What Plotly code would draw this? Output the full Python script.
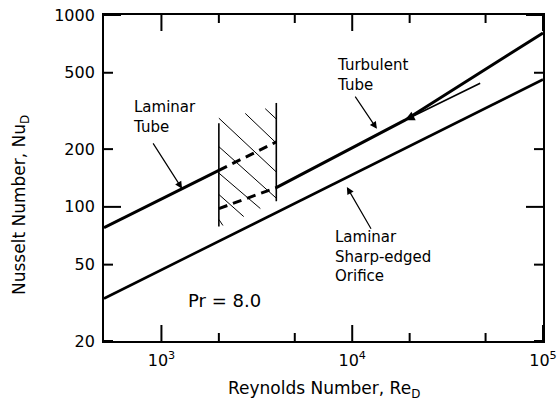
import math
import plotly.graph_objects as go

# ---------------- data ----------------
lam_tube_re = [500, 2000]
lam_tube_nu = [78, 155]

trans_upper_re = [2000, 4000]
trans_upper_nu = [155, 218]
trans_lower_re = [2000, 4000]
trans_lower_nu = [98, 126]

turb_tube_re = [4000, 18900, 100000]
turb_tube_nu = [126, 283, 806]

orifice_re = [500, 100000]
orifice_nu = [33.3, 461]

hatch_left_re = [2000, 2000]
hatch_left_nu = [79, 273]
hatch_right_re = [4000, 4000]
hatch_right_nu = [107, 348]

hatch_start_re = [3500, 2750, 2000, 2000, 2000, 2000, 2000]
hatch_start_nu = [325, 307, 290, 206, 150, 116, 86]
hatch_end_re = [4000, 4000, 4000, 4000, 3300, 2700, 2100]
hatch_end_nu = [287, 215, 152, 111, 98, 89, 80]

x_major = [1000, 10000, 100000]
x_major_text = ["10<sup>3</sup>", "10<sup>4</sup>", "10<sup>5</sup>"]
x_minor = [2000, 5000, 20000, 50000]
y_ticks = [20, 50, 100, 200, 500, 1000]
y_tick_text = ["20", "50", "100", "200", "500", "1000"]
y_decades = [100, 1000]
y_minor = [20, 50, 200, 500]

FONT = "DejaVu Sans"
W, H = 559, 407
ML, MR, MT, MB = 104, 16, 15, 66
PW, PH = W - ML - MR, H - MT - MB
XMIN, XMAX = 500, 100000
YMIN, YMAX = 20, 1000
XR = [math.log10(XMIN), math.log10(XMAX)]
YR = [math.log10(YMIN), math.log10(YMAX)]
PX_PER_DEC_X = PW / (XR[1] - XR[0])
PX_PER_DEC_Y = PH / (YR[1] - YR[0])


def paper(px, py):
    return (px - ML) / PW, (H - MB - py) / PH


fig = go.Figure()
black = "black"

def line(x, y, width=3, dash=None):
    fig.add_trace(go.Scatter(x=x, y=y, mode="lines",
                             line=dict(color=black, width=width, dash=dash),
                             hoverinfo="skip", cliponaxis=False))

line(lam_tube_re, lam_tube_nu, 3)
line(turb_tube_re, turb_tube_nu, 3)
line(orifice_re, orifice_nu, 2.6)
line(trans_upper_re, trans_upper_nu, 3, "9px,6px")
line(trans_lower_re, trans_lower_nu, 3, "9px,6px")
line(hatch_left_re, hatch_left_nu, 1.6)
line(hatch_right_re, hatch_right_nu, 1.6)

hx, hy = [], []
for a, b, c, d in zip(hatch_start_re, hatch_start_nu, hatch_end_re, hatch_end_nu):
    hx += [a, c, None]
    hy += [b, d, None]
line(hx, hy, 1)

# ---- tick marks (inside, on all four sides), drawn through the log scales ----
def xtick(v, length):
    f = 10 ** (length / PX_PER_DEC_Y)
    line([v, v], [YMIN, YMIN * f], 2)
    line([v, v], [YMAX, YMAX / f], 2)

def ytick(v, length):
    f = 10 ** (length / PX_PER_DEC_X)
    line([XMIN, XMIN * f], [v, v], 2)
    line([XMAX, XMAX / f], [v, v], 2)

for v in x_major:
    xtick(v, 16)
for v in x_minor:
    xtick(v, 8)
for v in y_decades:
    ytick(v, 17)
for v in y_minor:
    ytick(v, 9)

ann = []
def text(t, px, py, size=15, xanchor="left"):
    xp, yp = paper(px, py)
    ann.append(dict(text=t, x=xp, y=yp, xref="paper", yref="paper",
                    xanchor=xanchor, yanchor="middle", showarrow=False,
                    align="left",
                    font=dict(family=FONT, size=size, color=black)))

def arrow(re_tail, nu_tail, re_tip, nu_tip, width=1.2, head=2, size=1.2):
    ann.append(dict(text="", x=math.log10(re_tip), y=math.log10(nu_tip),
                    ax=math.log10(re_tail), ay=math.log10(nu_tail),
                    xref="x", yref="y", axref="x", ayref="y",
                    showarrow=True, arrowhead=head, arrowsize=size,
                    arrowwidth=width, arrowcolor=black))

text("Laminar<br>Tube", 131, 117)
text("Turbulent<br>Tube", 335, 75)
text("Laminar<br>Sharp-edged<br>Orifice", 333, 256.5)
text("Pr = 8.0", 186, 300, size=18)

arrow(894, 218, 1283, 124.4)
arrow(10245, 382, 13470, 255)
arrow(12680, 75.6, 9377, 127)
arrow(47700, 445, 18900, 283, width=1.6)

xp, yp = paper(324, 389)
ann.append(dict(text="Reynolds Number, Re<sub>D</sub>", x=xp, y=yp,
                xref="paper", yref="paper", showarrow=False,
                xanchor="center", yanchor="middle",
                font=dict(family=FONT, size=17, color=black)))
xp, yp = paper(20, 205)
ann.append(dict(text="Nusselt Number, Nu<sub>D</sub>", x=xp, y=yp,
                xref="paper", yref="paper", showarrow=False, textangle=-90,
                xanchor="center", yanchor="middle",
                font=dict(family=FONT, size=17, color=black)))

common = dict(showgrid=False, zeroline=False, automargin=False, ticks="")
fig.update_layout(
    width=W, height=H,
    margin=dict(l=ML, r=MR, t=MT, b=MB, autoexpand=False),
    paper_bgcolor="white", plot_bgcolor="white",
    showlegend=False,
    font=dict(family=FONT, size=16, color=black),
    annotations=ann,
    xaxis=dict(type="log", range=XR,
               tickvals=x_major, ticktext=x_major_text, ticklabelstandoff=4,
               showline=True, linewidth=1.8, linecolor=black, mirror=True,
               tickfont=dict(family=FONT, size=16, color=black), **common),
    yaxis=dict(type="log", range=YR,
               tickvals=y_ticks, ticktext=y_tick_text, ticklabelstandoff=4,
               showline=True, linewidth=1.8, linecolor=black, mirror=True,
               tickfont=dict(family=FONT, size=16, color=black), **common),
)

fig.write_html("out.html",
               config={"displayModeBar": False},
               post_script="document.body.style.margin='0px';"
                           "document.body.style.overflow='hidden';")
